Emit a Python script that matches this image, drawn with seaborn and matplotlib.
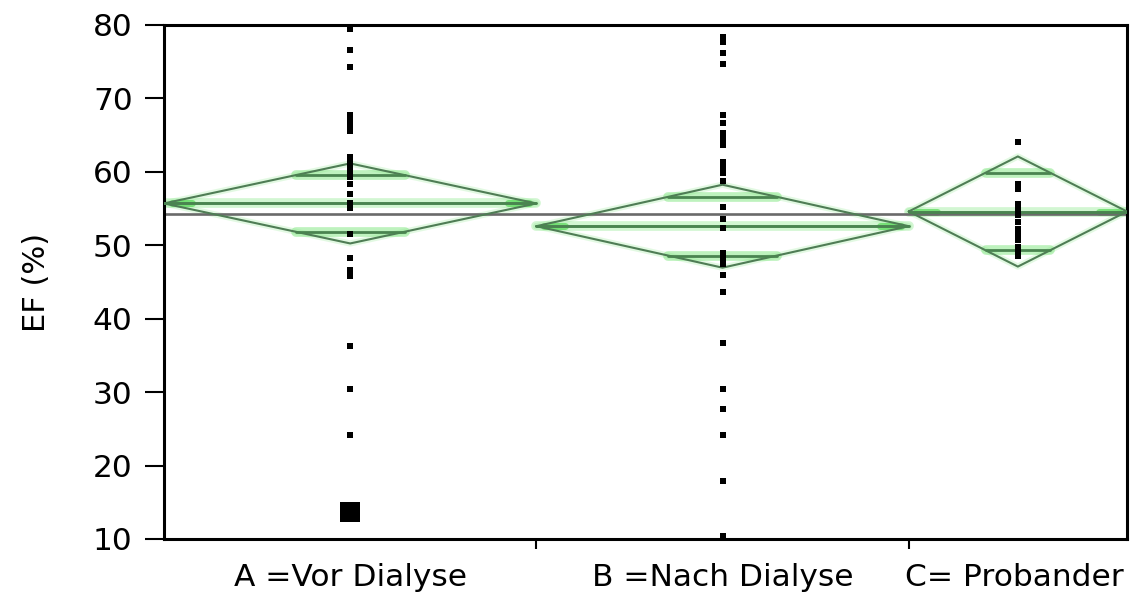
import numpy as np
import pandas as pd
import matplotlib
matplotlib.use("Agg")
import matplotlib.pyplot as plt
import matplotlib.transforms as mtransforms
import seaborn as sns

# Groups, sample sizes and the mean-diamond statistics (mean, 95% CI half width)
groups = ["A =Vor Dialyse", "B =Nach Dialyse", "C= Probander"]
group_n = [29, 29, 17]
group_means = [55.7, 52.6, 54.6]
ci_half = [5.45, 5.65, 7.5]

# Individual EF measurements (%)
ef_a = [79.5, 76.6, 74.3, 67.8, 67.0, 66.2, 65.6, 62.0, 61.3, 60.6, 59.9, 59.3,
        58.3, 57.0, 55.8, 55.1, 51.5, 48.3, 46.7, 45.8, 36.3, 30.4, 24.2]
ef_a_marked = [13.7]
ef_b = [78.3, 77.7, 76.2, 74.7, 67.8, 66.6, 65.3, 64.5, 63.6, 61.3, 60.5, 59.9,
        58.8, 55.2, 53.6, 52.3, 49.0, 48.2, 47.4, 46.0, 43.6, 36.7, 30.4, 27.7,
        24.2, 17.9, 10.4]
ef_c = [64.1, 58.4, 57.6, 55.6, 54.8, 54.1, 53.2, 52.2, 51.4, 50.7, 49.8, 49.0,
        48.5]

y_ticks = [10, 20, 30, 40, 50, 60, 70, 80]

sns.set_theme(style="white")
plt.rcParams["font.family"] = ["DejaVu Sans"]

fig = plt.figure(figsize=(11.4, 5.95), dpi=100)
ax = fig.add_axes([164 / 1140, 1 - 539 / 595, (1127 - 164) / 1140, (539 - 25) / 595])

# Group widths are proportional to the sample size
edges = np.concatenate([[0], np.cumsum(group_n)]).astype(float)
centers = (edges[:-1] + edges[1:]) / 2
grand_mean = float(np.average(group_means, weights=group_n))

diamond_col = "#4f7d55"
line_col = "#4a8450"
glow_col = "#7fe67f"

# Grand mean across all groups
ax.axhline(grand_mean, color="#6a6a6a", lw=1.9, zorder=2)

for i in range(len(groups)):
    left, right, c = edges[i], edges[i + 1], centers[i]
    m, h = group_means[i], ci_half[i]
    xs = [left, c, right, c, left]
    ys = [m, m + h, m, m - h, m]
    ax.plot(xs, ys, color=glow_col, lw=4.5, alpha=0.22, zorder=1)
    ax.plot(xs, ys, color=diamond_col, lw=1.5, zorder=3)
    # mean line
    ax.plot([left, right], [m, m], color=glow_col, lw=7, alpha=0.35, zorder=1)
    ax.plot([left + 0.6, left + 2.2], [m, m], color="#3fd43f", lw=5, alpha=0.6, zorder=1)
    ax.plot([right - 2.2, right - 0.6], [m, m], color="#3fd43f", lw=5, alpha=0.6, zorder=1)
    ax.plot([left, right], [m, m], color=line_col, lw=2.1, zorder=3)
    # overlap marks
    half_w = (right - left) / 2 * (1 - 1 / np.sqrt(2))
    for y in (m + h / np.sqrt(2), m - h / np.sqrt(2)):
        ax.plot([c - half_w, c + half_w], [y, y], color=glow_col, lw=7, alpha=0.5, zorder=1)
        ax.plot([c - half_w, c + half_w], [y, y], color=line_col, lw=2.0, zorder=3)

# Data points
df = pd.DataFrame({
    "pos": [centers[0]] * len(ef_a) + [centers[1]] * len(ef_b) + [centers[2]] * len(ef_c),
    "ef": ef_a + ef_b + ef_c,
})
sns.scatterplot(data=df, x="pos", y="ef", marker="s", s=17, color="black",
                linewidth=0, ax=ax, zorder=4)
df_marked = pd.DataFrame({"pos": [centers[0]] * len(ef_a_marked), "ef": ef_a_marked})
sns.scatterplot(data=df_marked, x="pos", y="ef", marker="s", s=200, color="black",
                linewidth=0, ax=ax, zorder=4)

ax.set_xlim(edges[0], edges[-1])
ax.set_ylim(10, 80)
ax.set_yticks(y_ticks)
ax.set_yticklabels([str(v) for v in y_ticks])
ax.set_xticks(centers)
ax.set_xticklabels(groups)
ax.set_xticks(edges[1:-1], minor=True)
ax.set_xlabel("")
ax.set_ylabel("EF (%)", fontsize=22, color="black")
ax.yaxis.set_label_coords(-0.117, 0.5)

ax.tick_params(axis="y", which="major", direction="out", length=13.5, width=1.5,
               pad=9, labelsize=22.5, colors="black", left=True)
ax.tick_params(axis="x", which="major", length=0, pad=17, labelsize=22.5,
               colors="black", bottom=True)
ax.tick_params(axis="x", which="minor", direction="out", length=7, width=1.5,
               color="black", bottom=True)

# The last category label starts at its group's left boundary
lab = ax.get_xticklabels()[2]
lab.set_horizontalalignment("left")
shift = -(centers[2] - edges[2]) / (edges[-1] - edges[0]) * (1127 - 164) / 100 - 0.04
lab.set_transform(lab.get_transform() + mtransforms.ScaledTranslation(shift, 0, fig.dpi_scale_trans))

for sp in ax.spines.values():
    sp.set_visible(True)
    sp.set_color("black")
    sp.set_linewidth(2.2)

ax.set_facecolor("white")
fig.patch.set_facecolor("white")
fig.savefig("out.png", dpi=100)
